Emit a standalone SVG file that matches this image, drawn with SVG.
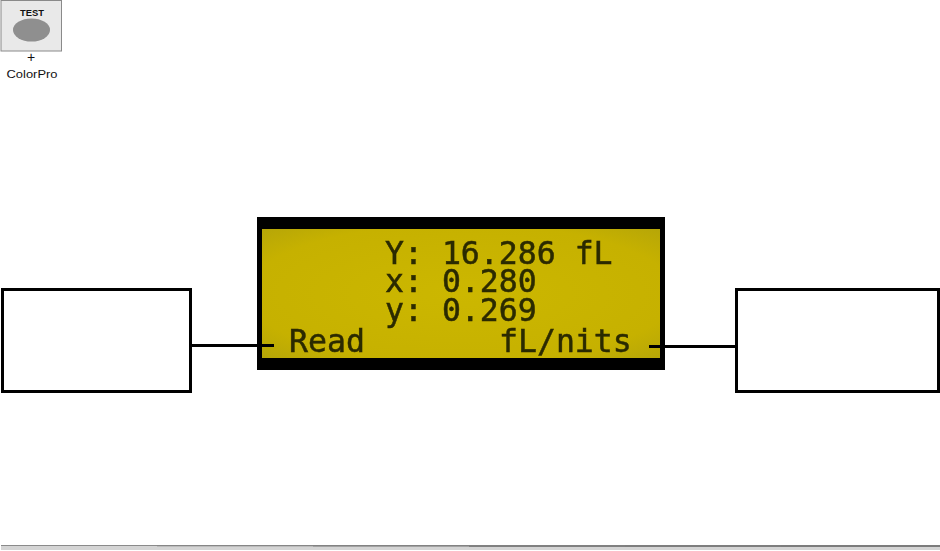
<svg xmlns="http://www.w3.org/2000/svg" width="940" height="551" viewBox="0 0 940 551">
  <style>
    .box { fill: #fff; stroke: #000; stroke-width: 3; }
    .lcd { font-family: "DejaVu Sans Mono", "Liberation Mono", monospace; font-size: 31.5px; fill: #2c2a04; stroke: #2c2a04; stroke-width: 0.5px; }
    .conn { stroke: #000; stroke-width: 3; fill: none; }
    .ic { font-family: "Liberation Sans", Arial, sans-serif; fill: #111; text-anchor: middle; }
  </style>
  <defs>
    <radialGradient id="lcdbg" cx="50%" cy="50%" r="72%">
      <stop offset="0" stop-color="#ccb700"/>
      <stop offset="0.75" stop-color="#c6b100"/>
      <stop offset="1" stop-color="#b5a508"/>
    </radialGradient>
    <filter id="soft" x="-5%" y="-5%" width="110%" height="110%"><feGaussianBlur stdDeviation="0.4"/></filter>
  </defs>

  <g id="test-button">
    <rect x="1" y="0.5" width="60.5" height="50.5" fill="#e9e9e9" stroke="#8a8a8a" stroke-width="1"/>
    <ellipse cx="31.5" cy="30" rx="18.5" ry="11.5" fill="#8f8f8f"/>
    <text class="ic" x="32" y="16" font-size="9" font-weight="bold" textLength="24" lengthAdjust="spacingAndGlyphs">TEST</text>
    <text class="ic" x="31" y="62" font-size="14">+</text>
    <text class="ic" x="32" y="78" font-size="11.5" textLength="51" lengthAdjust="spacingAndGlyphs">ColorPro</text>
  </g>

  <g id="lcd-display">
    <rect x="257" y="217" width="408" height="153" fill="#000"/>
    <rect x="262" y="229" width="398" height="129" fill="url(#lcdbg)"/>
    <g class="lcd" filter="url(#soft)">
      <text x="385" y="264">Y: 16.286 fL</text>
      <text x="385" y="292">x: 0.280</text>
      <text x="385" y="321">y: 0.269</text>
      <text x="289" y="352">Read</text>
      <text x="499" y="352">fL/nits</text>
    </g>
  </g>

  <g id="left-box"><rect class="box" x="2.5" y="289.5" width="188" height="102"/></g>
  <g id="right-box"><rect class="box" x="736.5" y="289.5" width="202" height="102"/></g>

  <g id="connectors">
    <line class="conn" x1="190" y1="345.5" x2="274" y2="345.5"/>
    <line class="conn" x1="649" y1="346.5" x2="736" y2="346.5"/>
  </g>

  <g id="bottom-rule">
    <rect x="1" y="545" width="939" height="5" fill="#d4d4d4"/>
    <rect x="1" y="545" width="156" height="1" fill="#8a8a8a"/>
    <rect x="157" y="545" width="156" height="1.3" fill="#868686"/>
    <rect x="313" y="545" width="156" height="1.6" fill="#828282"/>
    <rect x="469" y="545" width="156" height="2" fill="#808080"/>
    <rect x="625" y="545" width="156" height="2" fill="#7e7e7e"/>
    <rect x="781" y="545" width="159" height="2" fill="#7c7c7c"/>
  </g>
</svg>
